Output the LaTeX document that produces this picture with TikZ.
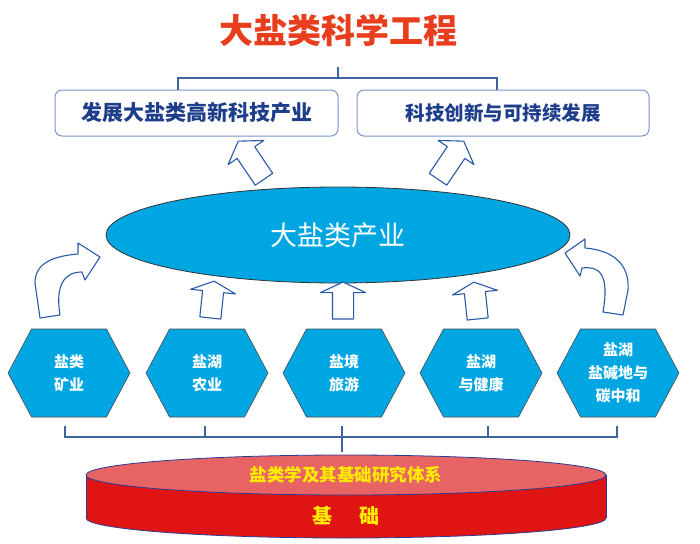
\documentclass[tikz,border=0pt]{standalone}
\usepackage{fontspec}
\setmainfont{Noto Sans CJK SC}
\usetikzlibrary{shapes.geometric,shapes.arrows,backgrounds,positioning}

\definecolor{titlered}{RGB}{232,62,30}
\definecolor{boxtext}{RGB}{30,62,140}
\definecolor{boxframe}{RGB}{120,150,200}
\definecolor{saltblue}{RGB}{0,166,226}
\definecolor{arrowblue}{RGB}{40,90,170}
\definecolor{bracketblue}{RGB}{60,100,160}
\definecolor{disktop}{RGB}{232,100,100}
\definecolor{diskside}{RGB}{225,20,20}
\definecolor{diskedge}{RGB}{40,60,150}
\definecolor{goldtext}{RGB}{255,235,0}

\begin{document}
\begin{tikzpicture}[x=1pt,y=-1pt,
    box/.style={draw=boxframe,line width=1pt,rounded corners=7pt,fill=white,
        minimum height=46pt,text=boxtext},
    hollow/.style={single arrow,draw=arrowblue,fill=white,line width=1.1pt,
        inner xsep=0pt,inner ysep=10pt,line join=round},
    hexcell/.style={align=center,text=white,inner sep=0pt,minimum width=122pt,minimum height=88pt,
        font=\fontsize{15}{23}\selectfont\bfseries},
    hexfill/.style={fill=saltblue,draw=black!70,line width=0.6pt},
    bracket/.style={draw=bracketblue,line width=1.4pt}]
    \useasboundingbox (0,0) rectangle (700,543);

    % title and the two goals
    \node (title) at (338,30) [text=titlered,font=\fontsize{34}{34}\selectfont\bfseries] {大盐类科学工程};
    \node (b1) at (196.5,113) [box,minimum width=283pt,font=\fontsize{21}{21}\selectfont\bfseries] {发展大盐类高新科技产业};
    \node (b2) at (503,113) [box,minimum width=292pt,font=\fontsize{19.5}{19.5}\selectfont\bfseries] {科技创新与可持续发展};
    \coordinate (tb) at (338,67);
    \draw[bracket] (tb) -- ++(0,11) coordinate (tm);
    \draw[bracket] ([xshift=-18.5pt]b1.north) |- (tm) -| ([xshift=-6pt]b2.north);

    % industry
    \node (ind) at (338,235) [ellipse,fill=saltblue,draw=black!80,line width=0.8pt,
        minimum width=464pt,minimum height=96pt,text=white,font=\fontsize{27}{27}\selectfont] {大盐类产业};
    \node (u1) at (253,163) [hollow,rotate=124,minimum height=46pt,single arrow head extend=11pt,single arrow tip angle=115] {};
    \node (u2) at (449,163) [hollow,rotate=56,minimum height=46pt,single arrow head extend=11pt,single arrow tip angle=115] {};

    % the five fields
    \node (h1) at (69,373) [hexcell] {盐类\\矿业};
    \node (h2) at (207,373) [hexcell] {盐湖\\农业};
    \node (h3) at (344,373) [hexcell] {盐境\\旅游};
    \node (h4) at (481,373) [hexcell] {盐湖\\与健康};
    \node (h5) at (618,373) [hexcell] {盐湖\\盐碱地与\\碳中和};
    \begin{pgfonlayer}{background}
        \foreach \h in {h1,h2,h3,h4,h5}
            \draw[hexfill] ([shift={(-37.5,-44)}]\h.center) -- ++(75,0) -- ++(23.5,44)
                -- ++(-23.5,44) -- ++(-75,0) -- ++(-23.5,-44) -- cycle;
    \end{pgfonlayer}

    \node (a2) at (212,302) [hollow,rotate=84,minimum height=37pt,single arrow head extend=12pt,single arrow tip angle=130] {};
    \node (a3) at (343,303) [hollow,rotate=90,minimum height=37pt,single arrow head extend=12pt,single arrow tip angle=130] {};
    \node (a4) at (476,303) [hollow,rotate=96,minimum height=37pt,single arrow head extend=12pt,single arrow tip angle=130] {};
    \draw[arrowblue,fill=white,line width=1.1pt,line join=round]
        (40,318) -- (35,283) .. controls (35,262) and (55,256) .. (78,254) -- (78,243)
        -- (100,257) -- (85,280) -- (82,272) .. controls (65,272) and (55,284) .. (60,315) -- cycle;
    \draw[arrowblue,fill=white,line width=1.1pt,line join=round]
        (623,315) -- (628,290) .. controls (630,262) and (610,250) .. (585,248) -- (585,239)
        -- (565,253) -- (580,276) -- (582,268) .. controls (598,266) and (610,272) .. (603,312) -- cycle;

    % foundation
    \coordinate (hm) at (342,437);
    \draw[bracket] ([shift={(-4,9)}]h1.south) |- (hm) -| ([shift={(-1,9)}]h5.south);
    \draw[bracket] ([shift={(-2,9)}]h2.south) -- ++(0,11);
    \draw[bracket] ([shift={(7,9)}]h4.south) -- ++(0,11);
    \draw[bracket] ([shift={(-2,9)}]h3.south) -- ++(0,26);

    \draw[fill=diskside,draw=diskedge,line width=0.8pt] (346,518) ellipse [x radius=260,y radius=20];
    \fill[diskside] (86,475) rectangle (606,518);
    \draw[diskedge,line width=0.8pt] (86,475) -- (86,518) (606,475) -- (606,518);
    \node (base) at (346,475) [ellipse,fill=disktop,draw=diskedge,line width=0.8pt,
        minimum width=520pt,minimum height=40pt,text=goldtext,
        font=\fontsize{17.5}{17.5}\selectfont\bfseries] {盐类学及其基础研究体系};
    \node (found) at (346,516) [text=goldtext,font=\fontsize{20}{20}\selectfont\bfseries] {基\hspace{1.4em}础};
\end{tikzpicture}
\end{document}
